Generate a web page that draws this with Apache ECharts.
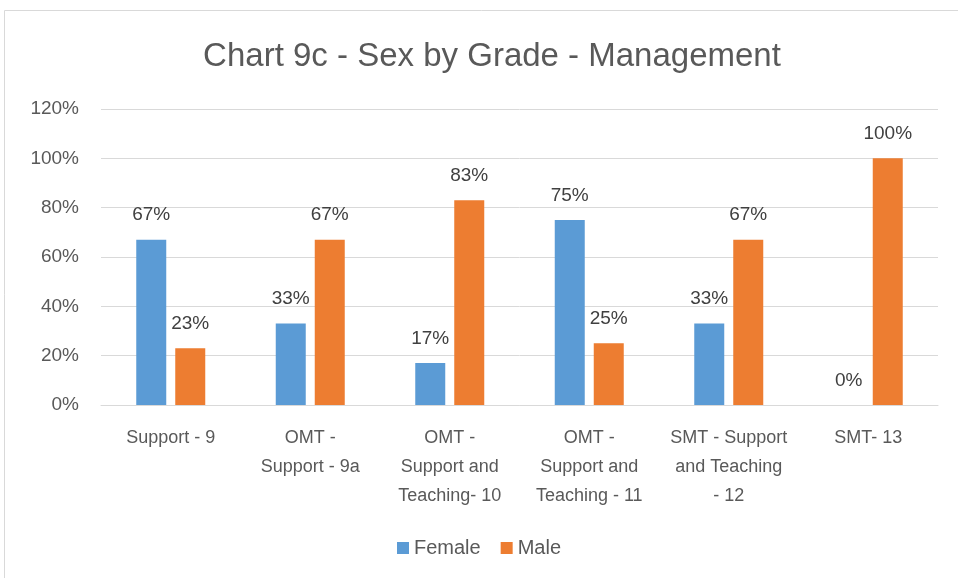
<!DOCTYPE html>
<html>
<head>
<meta charset="utf-8">
<script src="https://cdn.jsdelivr.net/npm/echarts@6/dist/echarts.min.js"></script>
<style>
  html, body { margin: 0; padding: 0; background: #fff; }
  #chart { width: 958px; height: 578px; }
</style>
</head>
<body>
<div id="chart"></div>
<script>
  // data
  var grades = ['Support - 9', 'OMT -\nSupport - 9a', 'OMT -\nSupport and\nTeaching- 10',
    'OMT -\nSupport and\nTeaching - 11', 'SMT - Support\nand Teaching\n- 12', 'SMT- 13'];
  var female = [67, 33, 17, 75, 33, 0];
  var male = [23, 67, 83, 25, 67, 100];
  var yTicks = [0, 20, 40, 60, 80, 100, 120];

  var font = '"Liberation Sans", sans-serif';
  var myChart = echarts.init(document.getElementById('chart'));

  function barLabel() {
    return {
      show: true,
      position: 'top',
      distance: 15,
      formatter: '{c}%',
      color: '#404040',
      fontSize: 19,
      fontFamily: font
    };
  }

  myChart.setOption({
    animation: false,
    // chart frame
    graphic: [{
      type: 'rect',
      shape: { x: 4.5, y: 10.5, width: 980, height: 600 },
      style: { fill: 'none', stroke: '#d9d9d9', lineWidth: 1 },
      silent: true
    }],
    title: {
      text: 'Chart 9c - Sex by Grade - Management',
      left: 487,
      textAlign: 'center',
      top: 35,
      textStyle: { color: '#595959', fontSize: 33, fontWeight: 'normal', fontFamily: font }
    },
    legend: {
      bottom: 15,
      left: 'center',
      itemWidth: 12,
      itemHeight: 12,
      itemGap: 20,
      icon: 'rect',
      textStyle: { color: '#595959', fontSize: 20, fontFamily: font },
      data: ['Female', 'Male']
    },
    grid: { left: 101, right: 20, top: 109, bottom: 173 },
    xAxis: {
      type: 'category',
      data: grades,
      axisLine: { lineStyle: { color: '#d9d9d9' } },
      axisTick: { show: false },
      axisLabel: {
        interval: 0,
        color: '#595959',
        fontSize: 18,
        lineHeight: 29,
        margin: 19,
        fontFamily: font
      }
    },
    yAxis: {
      type: 'value',
      min: yTicks[0],
      max: yTicks[yTicks.length - 1],
      interval: 20,
      axisLine: { show: false },
      axisTick: { show: false },
      axisLabel: {
        formatter: '{value}%',
        color: '#595959',
        fontSize: 19,
        margin: 22,
        fontFamily: font
      },
      splitLine: { lineStyle: { color: '#d9d9d9', width: 1 } }
    },
    series: [
      {
        name: 'Female',
        type: 'bar',
        data: female,
        barWidth: 30,
        barGap: '30%',
        itemStyle: { color: '#5b9bd5' },
        label: barLabel()
      },
      {
        name: 'Male',
        type: 'bar',
        data: male,
        barWidth: 30,
        itemStyle: { color: '#ed7d31' },
        label: barLabel()
      }
    ]
  });
</script>
</body>
</html>
